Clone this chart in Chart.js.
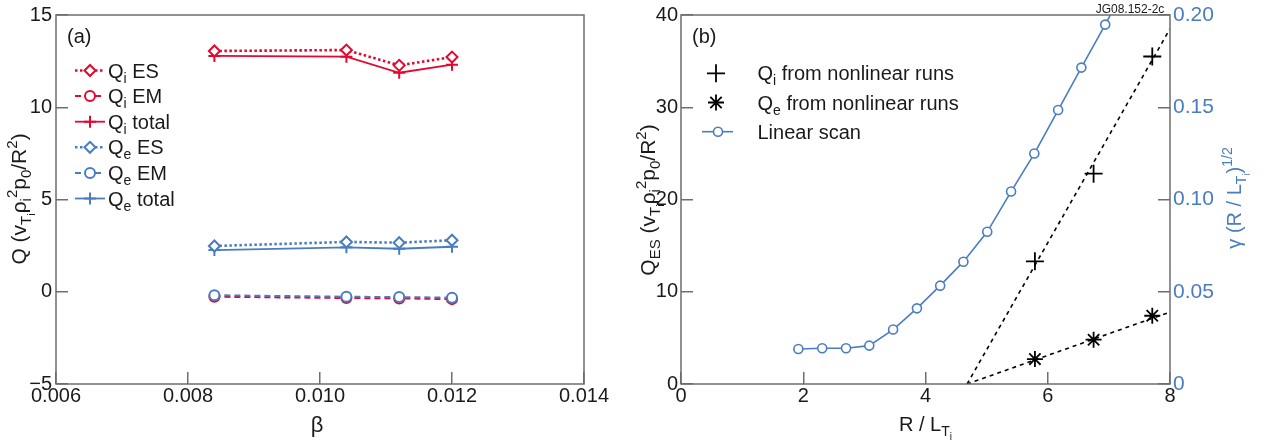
<!DOCTYPE html>
<html>
<head>
<meta charset="utf-8">
<script src="https://cdn.jsdelivr.net/npm/chart.js@4.4.0/dist/chart.umd.min.js"></script>
<style>
  html, body { margin: 0; padding: 0; background: #fff; }
  #wrap { position: relative; width: 1264px; height: 441px; }
  #chA { position: absolute; left: 0; top: 0; }
  #chB { position: absolute; left: 620px; top: 0; }
</style>
</head>
<body>
<div id="wrap">
  <canvas id="chA" width="620" height="441"></canvas>
  <canvas id="chB" width="644" height="441"></canvas>
</div>
<script>
// =========================
// DATA (a): heat flux vs beta
// =========================
const BETA = [0.0084, 0.0104, 0.0112, 0.0120];
const QI_ES = [13.05, 13.10, 12.27, 12.72];
const QI_EM = [-0.27, -0.34, -0.36, -0.40];
const QI_TOTAL = [12.78, 12.74, 11.87, 12.31];
const QE_ES = [2.48, 2.70, 2.66, 2.79];
const QE_EM = [-0.19, -0.27, -0.29, -0.32];
const QE_TOTAL = [2.26, 2.41, 2.33, 2.44];

// =========================
// DATA (b): R/LTi scan
// =========================
const RLT_SCAN = [1.92, 2.31, 2.70, 3.08, 3.47, 3.86, 4.24, 4.62, 5.01, 5.40, 5.78, 6.17, 6.55, 6.94, 7.33];
const GAMMA_SCAN = [0.0190, 0.0194, 0.0194, 0.0208, 0.0295, 0.0410, 0.0533, 0.0663, 0.0825, 0.1043, 0.1249, 0.1485, 0.1715, 0.1948, 0.219];
const RLT_NL = [5.79, 6.75, 7.71];
const QI_NL = [13.3, 22.8, 35.5];
const QE_NL = [2.7, 4.8, 7.4];
const RLT_FIT = [4.68, 8];
const QI_FIT = [0, 38.5];
const QE_FIT = [0, 7.8];

// tick labels
const TICKS_A_X = [0.006, 0.008, 0.010, 0.012, 0.014];
const TICKS_A_Y = [-5, 0, 5, 10, 15];

// =========================
// common style
// =========================
const FONT = "'Liberation Sans', Arial, sans-serif";
const RED = '#e2082f';
const BLUE = '#4a7dc0';
const INK = '#1a1a1a';
const FRAME = '#6e6e6e';
Chart.defaults.font.family = FONT;
Chart.defaults.color = INK;

const pts = (xs, ys) => xs.map((x, i) => ({ x, y: ys[i] }));

// fixed box sizes so the plot frames land where the reference has them
const fixSize = (w, h) => s => {
  if (w != null) s.width = w;
  if (h != null) s.height = h;
  s.paddingTop = s.paddingBottom = s.paddingLeft = s.paddingRight = 0;
};

// draw text runs with sub/superscripts: [text, size, dy]
function rich(ctx, parts, x, y, align, rot, color) {
  ctx.save();
  ctx.translate(x, y);
  if (rot) ctx.rotate(rot);
  ctx.fillStyle = color;
  ctx.textBaseline = 'alphabetic';
  let w = 0;
  for (const p of parts) { ctx.font = p[1] + 'px ' + FONT; w += ctx.measureText(p[0]).width; }
  let cx = align === 'center' ? -w / 2 : 0;
  for (const p of parts) {
    ctx.font = p[1] + 'px ' + FONT;
    ctx.fillText(p[0], cx, p[2] || 0);
    cx += ctx.measureText(p[0]).width;
  }
  ctx.restore();
}

function marker(ctx, style, r, bw, color, fill, x, y) {
  ctx.save();
  ctx.strokeStyle = color;
  ctx.fillStyle = fill;
  ctx.lineWidth = bw;
  ctx.setLineDash([]);
  Chart.helpers.drawPoint(ctx, { pointStyle: style, radius: r, borderWidth: bw, rotation: 0 }, x, y);
  ctx.restore();
}

const tickGrid = { drawOnChartArea: false, drawTicks: true, tickLength: -12, color: FRAME, lineWidth: 1.5 };

const framePlugin = {
  id: 'frame',
  afterDatasetsDraw(chart) {
    const { ctx, chartArea: a } = chart;
    ctx.save();
    ctx.strokeStyle = FRAME;
    ctx.lineWidth = 1.5;
    ctx.strokeRect(a.left, a.top, a.right - a.left, a.bottom - a.top);
    ctx.restore();
  }
};

// title with v_Ti rho_i^2 p_0 / R^2
const fluxUnit = [[' (v', 21], ['T', 15, 5], ['i', 11, 9], ['\u03c1', 21], ['i', 15, 5], ['2', 15, -9],
  ['p', 21], ['0', 15, 5], ['/R', 21], ['2', 15, -9], [')', 21]];

// =========================
// (a)
// =========================
function seriesA(label, ys, color, dash, lw, style, r, order) {
  return {
    label, data: pts(BETA, ys), borderColor: color, borderWidth: lw, borderDash: dash,
    pointStyle: style, pointRadius: r, pointBorderWidth: 2, pointBackgroundColor: '#fff',
    pointBorderColor: color, fill: false, tension: 0, order
  };
}

const dsA = [
  seriesA(['i', ' ES'], QI_ES, RED, [2.5, 2.5], 2.6, 'rectRot', 5.5, 1),
  seriesA(['i', ' EM'], QI_EM, RED, [6, 4], 2, 'circle', 5, 1),
  seriesA(['i', ' total'], QI_TOTAL, RED, [], 1.8, 'cross', 6, 1),
  seriesA(['e', ' ES'], QE_ES, BLUE, [2.5, 2.5], 2.6, 'rectRot', 5.5, 0),
  seriesA(['e', ' EM'], QE_EM, BLUE, [6, 4], 2, 'circle', 5, 0),
  seriesA(['e', ' total'], QE_TOTAL, BLUE, [], 1.8, 'cross', 6, 0)
];

const decoA = {
  id: 'decoA',
  afterDraw(chart) {
    const ctx = chart.ctx;
    const a = chart.chartArea;
    // legend
    chart.data.datasets.forEach((ds, i) => {
      const y = 70.5 + i * 25.6;
      ctx.save();
      ctx.strokeStyle = ds.borderColor;
      ctx.lineWidth = ds.borderWidth;
      ctx.setLineDash(ds.borderDash);
      ctx.beginPath();
      ctx.moveTo(75, y); ctx.lineTo(105, y);
      ctx.stroke();
      ctx.restore();
      marker(ctx, ds.pointStyle, ds.pointRadius, 2, ds.borderColor, '#fff', 90, y);
      rich(ctx, [['Q', 20], [ds.label[0], 14, 5], [ds.label[1], 20]], 108, y + 7, 'left', 0, INK);
    });
    // panel label
    ctx.font = '20px ' + FONT;
    ctx.fillStyle = INK;
    ctx.fillText('(a)', 67, 43);
    // axis titles
    rich(ctx, [['Q', 21]].concat(fluxUnit), 26, 199, 'center', -Math.PI / 2, INK);
    rich(ctx, [['\u03b2', 22]], (a.left + a.right) / 2 - 3, 432, 'center', 0, INK);
  }
};

new Chart(document.getElementById('chA'), {
  type: 'line',
  data: { datasets: dsA },
  options: {
    responsive: false,
    animation: false,
    layout: { padding: { top: 15, right: 36, left: 0, bottom: 0 } },
    plugins: { legend: { display: false }, tooltip: { enabled: false } },
    scales: {
      x: {
        type: 'linear', min: 0.006, max: 0.014,
        afterFit: fixSize(null, 57),
        afterBuildTicks: s => { s.ticks = TICKS_A_X.map(v => ({ value: v })); },
        grid: tickGrid, border: { display: false },
        ticks: { padding: 12, font: { size: 20 }, color: INK, callback: v => v.toFixed(3) }
      },
      y: {
        type: 'linear', min: -5, max: 15,
        afterFit: fixSize(56, null),
        afterBuildTicks: s => { s.ticks = TICKS_A_Y.map(v => ({ value: v })); },
        grid: tickGrid, border: { display: false },
        ticks: { padding: 16, font: { size: 20 }, color: INK, callback: v => v < 0 ? '\u2212' + Math.abs(v) : String(v) }
      }
    }
  },
  plugins: [framePlugin, decoA]
});

// =========================
// (b)
// =========================
const dsB = [
  {
    label: 'Qi', data: pts(RLT_NL, QI_NL), showLine: false, yAxisID: 'y',
    pointStyle: 'cross', pointRadius: 9, pointBorderWidth: 1.8, pointBorderColor: '#000'
  },
  {
    label: 'Qe', data: pts(RLT_NL, QE_NL), showLine: false, yAxisID: 'y',
    pointStyle: 'star', pointRadius: 8, pointBorderWidth: 1.8, pointBorderColor: '#000'
  },
  {
    label: 'Linear scan', data: pts(RLT_SCAN, GAMMA_SCAN), yAxisID: 'y2',
    borderColor: BLUE, borderWidth: 1.6, pointStyle: 'circle', pointRadius: 4.5,
    pointBorderWidth: 1.6, pointBorderColor: BLUE, pointBackgroundColor: '#fff', tension: 0
  },
  {
    label: 'fit i', data: pts(RLT_FIT, QI_FIT), yAxisID: 'y', borderColor: '#000',
    borderWidth: 1.6, borderDash: [4, 4], pointRadius: 0
  },
  {
    label: 'fit e', data: pts(RLT_FIT, QE_FIT), yAxisID: 'y', borderColor: '#000',
    borderWidth: 1.6, borderDash: [4, 4], pointRadius: 0
  }
];

const decoB = {
  id: 'decoB',
  afterDraw(chart) {
    const ctx = chart.ctx;
    const a = chart.chartArea;
    // legend
    const rows = [73.3, 102.5, 131.7];
    marker(ctx, 'cross', 9, 1.8, '#000', '#fff', 96, rows[0]);
    marker(ctx, 'star', 8, 1.8, '#000', '#fff', 96, rows[1]);
    ctx.save();
    ctx.strokeStyle = BLUE; ctx.lineWidth = 1.6;
    ctx.beginPath(); ctx.moveTo(82, rows[2]); ctx.lineTo(113, rows[2]); ctx.stroke();
    ctx.restore();
    marker(ctx, 'circle', 4.5, 1.6, BLUE, '#fff', 98, rows[2]);
    rich(ctx, [['Q', 20], ['i', 14, 5], [' from nonlinear runs', 20]], 137.5, rows[0] + 7, 'left', 0, INK);
    rich(ctx, [['Q', 20], ['e', 14, 5], [' from nonlinear runs', 20]], 137.5, rows[1] + 7, 'left', 0, INK);
    rich(ctx, [['Linear scan', 20]], 137.5, rows[2] + 7, 'left', 0, INK);
    // panel label + figure id
    ctx.font = '20px ' + FONT;
    ctx.fillStyle = INK;
    ctx.fillText('(b)', 72, 43);
    ctx.font = '12px ' + FONT;
    ctx.textAlign = 'center';
    ctx.fillText('JG08.152-2c', 510, 13);
    ctx.textAlign = 'left';
    // axis titles
    rich(ctx, [['Q', 21], ['ES', 15, 5]].concat(fluxUnit), 35, 200, 'center', -Math.PI / 2, INK);
    rich(ctx, [['R / L', 20], ['T', 14, 5], ['i', 10, 9]], (a.left + a.right) / 2, 431, 'center', 0, INK);
    rich(ctx, [['\u03b3 (R / L', 20], ['T', 14, 5], ['i', 10, 9], [')', 20], ['1/2', 14, -9]],
      621, 198, 'center', -Math.PI / 2, BLUE);
  }
};

new Chart(document.getElementById('chB'), {
  type: 'line',
  data: { datasets: dsB },
  options: {
    responsive: false,
    animation: false,
    layout: { padding: { top: 15, right: 0, left: 0, bottom: 0 } },
    plugins: { legend: { display: false }, tooltip: { enabled: false } },
    scales: {
      x: {
        type: 'linear', min: 0, max: 8,
        afterFit: fixSize(null, 57),
        grid: tickGrid, border: { display: false },
        ticks: { stepSize: 2, padding: 12, font: { size: 20 }, color: INK }
      },
      y: {
        type: 'linear', position: 'left', min: 0, max: 40,
        afterFit: fixSize(61, null),
        grid: tickGrid, border: { display: false },
        ticks: { stepSize: 10, padding: 15, font: { size: 20 }, color: INK }
      },
      y2: {
        type: 'linear', position: 'right', min: 0, max: 0.2,
        afterFit: fixSize(94, null),
        grid: tickGrid, border: { display: false },
        ticks: { stepSize: 0.05, padding: 15, font: { size: 21 }, color: BLUE, callback: v => v === 0 ? '0' : v.toFixed(2) }
      }
    }
  },
  plugins: [framePlugin, decoB]
});
</script>
</body>
</html>
